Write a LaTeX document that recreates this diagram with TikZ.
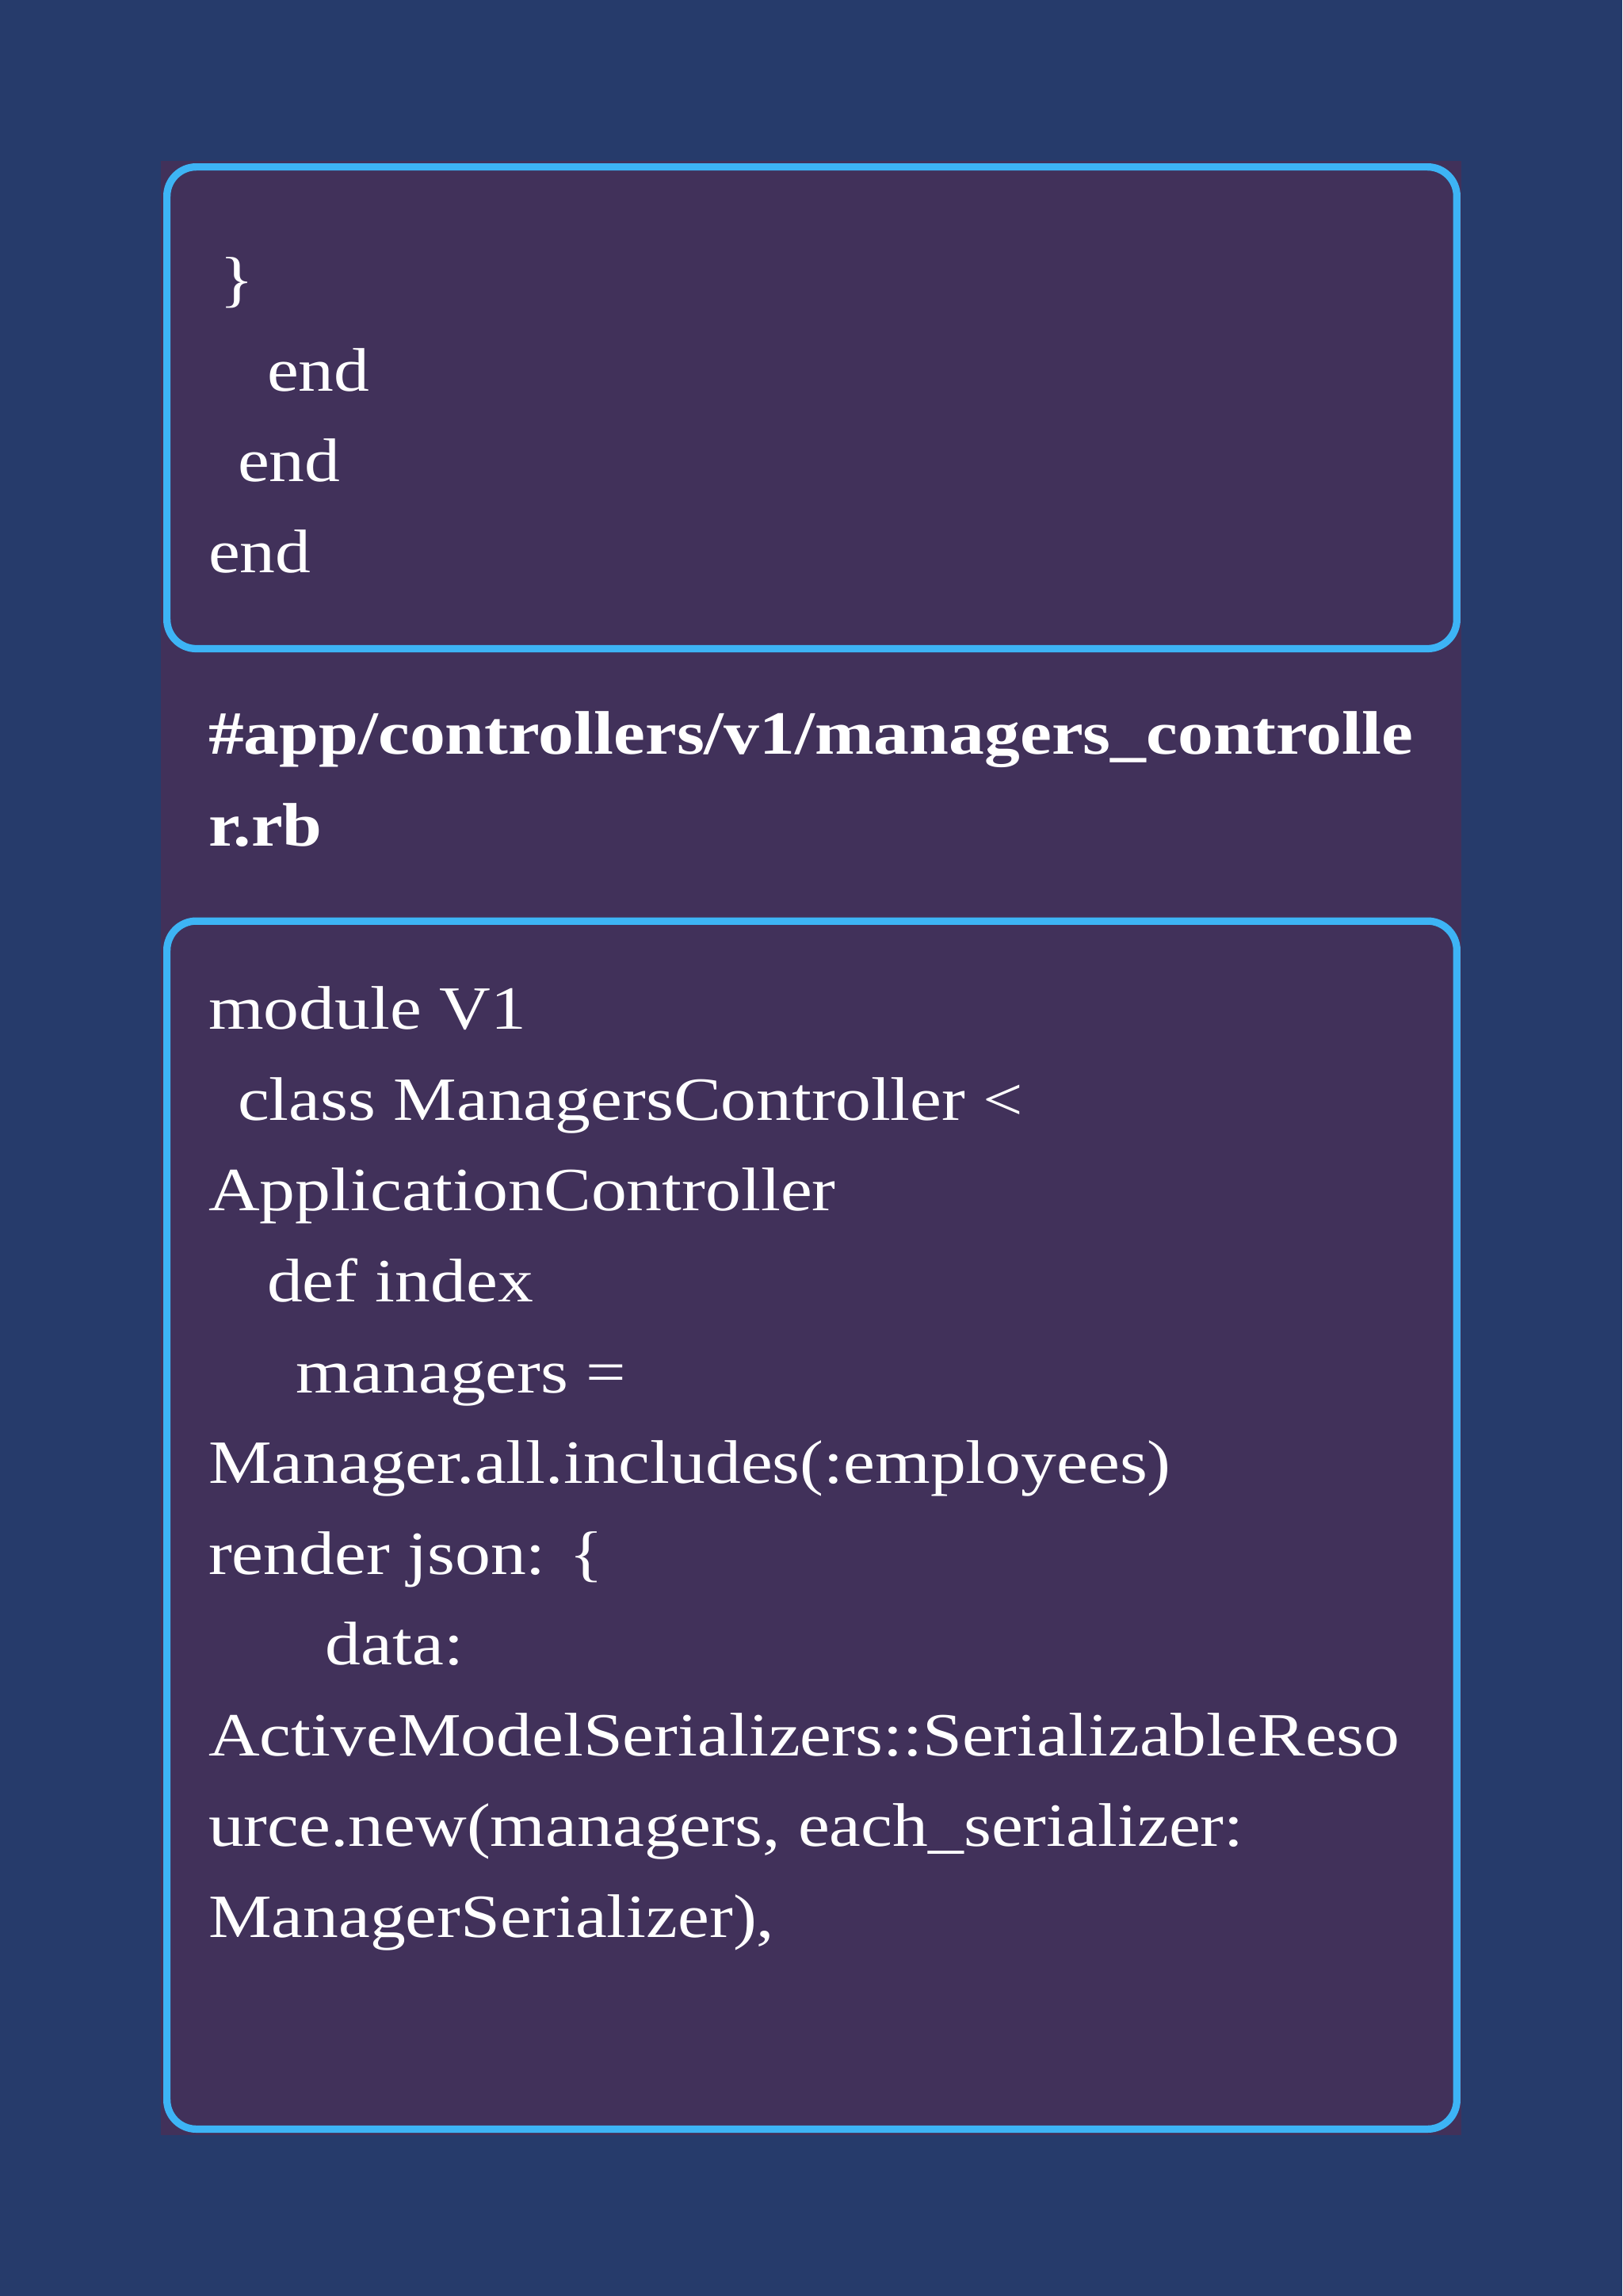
\documentclass[tikz,border=0pt]{standalone}
\usepackage{fontspec}
\setmainfont{Liberation Serif}[FakeStretch=1.155]
\begin{document}
\begin{tikzpicture}[x=0.5pt,y=-0.5pt,
 codeline/.style={anchor=base west,inner sep=0,font=\fontsize{21}{25}\selectfont,text=white},
 titleline/.style={anchor=base west,inner sep=0,font=\bfseries\fontsize{21}{25}\selectfont,text=white}]
\definecolor{bgc}{HTML}{263B6B}
\definecolor{panel}{HTML}{41315A}
\definecolor{bord}{HTML}{3DB4F5}
\fill[bgc] (0,0) rectangle (1108,1568);
\useasboundingbox (0,0) rectangle (1108,1568);
\fill[panel] (110,110) rectangle (998,1458);
\draw[draw=bord,line width=2.5pt,rounded corners=10pt] (114,114) rectangle (995,443);
\draw[draw=bord,line width=2.5pt,rounded corners=10pt] (114,629) rectangle (995,1454);
\node[codeline] (l1) at (150,205) {\}};
\node[codeline] (l2) at (182,267) {end};
\node[codeline] (l3) at (162,329) {end};
\node[codeline] (l4) at (142,391) {end};
\node[titleline] (t1) at (142,515) {\#app/controllers/v1/managers\_controlle};
\node[titleline] (t2) at (142,578) {r.rb};
\node[codeline] (c1) at (142,703) {module V1};
\node[codeline] (c2) at (162,765) {class ManagersController <};
\node[codeline] (c3) at (142,827) {ApplicationController};
\node[codeline] (c4) at (182,889) {def index};
\node[codeline] (c5) at (202,951) {managers =};
\node[codeline] (c6) at (142,1013) {Manager.all.includes(:employees)};
\node[codeline] (c7) at (142,1075) {render json: \{};
\node[codeline] (c8) at (222,1137) {data:};
\node[codeline] (c9) at (142,1199) {ActiveModelSerializers::SerializableReso};
\node[codeline] (c10) at (142,1261) {urce.new(managers, each\_serializer:};
\node[codeline] (c11) at (142,1323) {ManagerSerializer),};
\end{tikzpicture}
\end{document}
